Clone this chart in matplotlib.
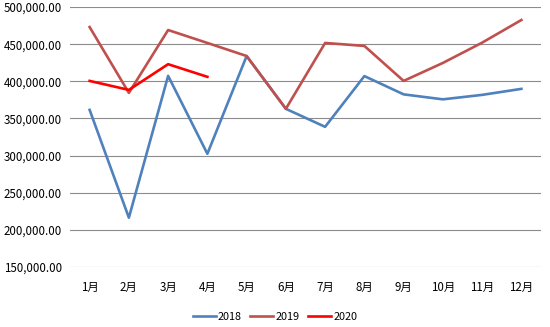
import matplotlib.pyplot as plt
from matplotlib.ticker import FuncFormatter

plt.rcParams['font.family'] = ['Noto Sans CJK SC', 'DejaVu Sans']

# data
months = ['1月', '2月', '3月', '4月', '5月', '6月', '7月', '8月', '9月', '10月', '11月', '12月']
y2018 = [361500, 216400, 407300, 302400, 434000, 362900, 338700, 407000, 382400, 375700, 381700, 389800]
y2019 = [473000, 384400, 469000, 451600, 434000, 363000, 451600, 447600, 400500, 424700, 452000, 482500]
y2020 = [400500, 388400, 423000, 406000]

fig = plt.figure(figsize=(5.5, 3.27), dpi=100)
ax = fig.add_axes([70 / 550, 1 - 267 / 327, 471 / 550, 260 / 327])

x = list(range(len(months)))
ax.plot(x, y2018, color='#4F81BD', lw=1.9, label='2018')
ax.plot(x, y2019, color='#C0504D', lw=1.9, label='2019')
ax.plot(x[:len(y2020)], y2020, color='#FF0000', lw=1.9, label='2020')

ax.set_xlim(-0.5, 11.5)
ax.set_ylim(150000, 500000)
ax.set_yticks(range(150000, 500001, 50000))
ax.yaxis.set_major_formatter(FuncFormatter(lambda v, p: f'{v:,.2f}'))
ax.set_xticks(x)
ax.set_xticklabels(months)

ax.grid(axis='y', color='#8C8C8C', lw=0.8)
ax.set_axisbelow(True)
for s in ax.spines.values():
    s.set_visible(False)
ax.tick_params(length=0, labelsize=8.3, colors='#000000')
ax.tick_params(axis='x', pad=10)
ax.tick_params(axis='y', pad=6)

fig.legend(loc='lower center', ncol=3, frameon=False, fontsize=7.8,
           bbox_to_anchor=(0.5, -0.015), handlelength=2.1, handletextpad=0.2,
           columnspacing=0.8)

fig.savefig('out.png', dpi=100)
